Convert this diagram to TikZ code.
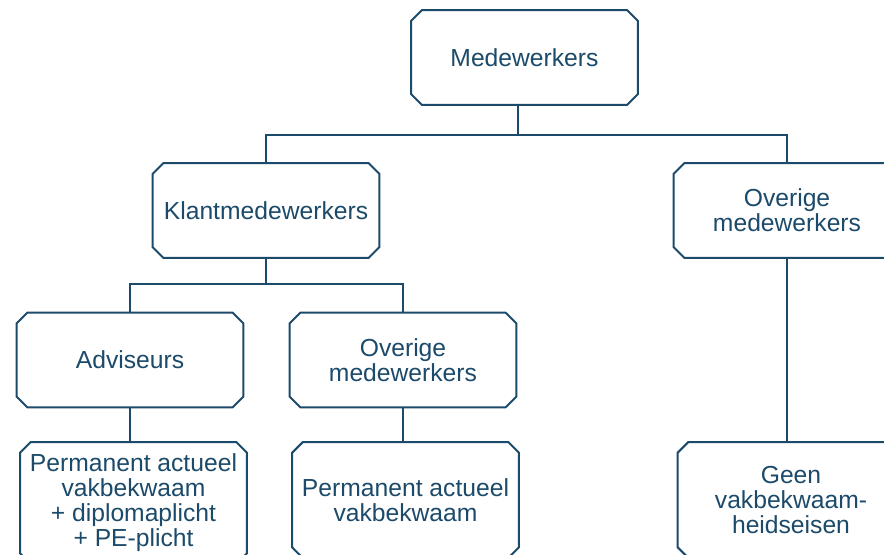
\documentclass[tikz,border=0pt]{standalone}
\usepackage{fontspec}
\setmainfont{Liberation Sans}
\usetikzlibrary{shapes.misc}
\definecolor{orgblauw}{RGB}{28,74,106}
\tikzset{
	blok/.style={chamfered rectangle, chamfered rectangle xsep=4pt,
		chamfered rectangle ysep=4pt, draw=orgblauw, line width=1.5pt,
		fill=white, text=orgblauw, align=center, inner sep=0pt,
		minimum width=170pt, minimum height=71pt,
		font=\fontsize{18.5}{18.8}\selectfont},
	laag/.style={blok, minimum height=87pt},
	lijn/.style={draw=orgblauw, line width=1.5pt}
}
\begin{document}
\begin{tikzpicture}[x=0.75pt, y=-0.75pt]
	\useasboundingbox (0,0) rectangle (884,555);
	\clip (0,0) rectangle (884,555);
	% bovenste laag
	\node[blok] (med) at (524.5, 57.5) {Medewerkers};
	% tweede laag
	\node[blok] (klant) at (266, 210.5) {Klantmedewerkers};
	\node[blok] (overigR) at (787, 210.5) {Overige\\medewerkers};
	% derde laag
	\node[blok] (adv) at (130, 360) {Adviseurs};
	\node[blok] (overigM) at (403, 360) {Overige\\medewerkers};
	% eisen
	\node[laag, minimum height=91.5pt] (perm1) at (133.5, 503) {Permanent actueel\\vakbekwaam\\+ diplomaplicht\\+ PE-plicht};
	\node[laag] (perm2) at (405.5, 500) {Permanent actueel\\vakbekwaam};
	\node[laag] (geen) at (791, 500) {Geen\\vakbekwaam-\\heidseisen};

	% verbindingen
	\coordinate (split1) at (518, 135);
	\coordinate (split2) at (266, 284);
	\draw[lijn] (split1 |- med.south) -- (split1);
	\draw[lijn] (split1) -| (klant.north);
	\draw[lijn] (split1) -| (overigR.north);
	\draw[lijn] (klant.south) -- (split2);
	\draw[lijn] (split2) -| (adv.north);
	\draw[lijn] (split2) -| (overigM.north);
	\draw[lijn] (adv.south) -- (adv.south |- perm1.north);
	\draw[lijn] (overigM.south) -- (overigM.south |- perm2.north);
	\draw[lijn] (overigR.south) -- (overigR.south |- geen.north);
\end{tikzpicture}
\end{document}
